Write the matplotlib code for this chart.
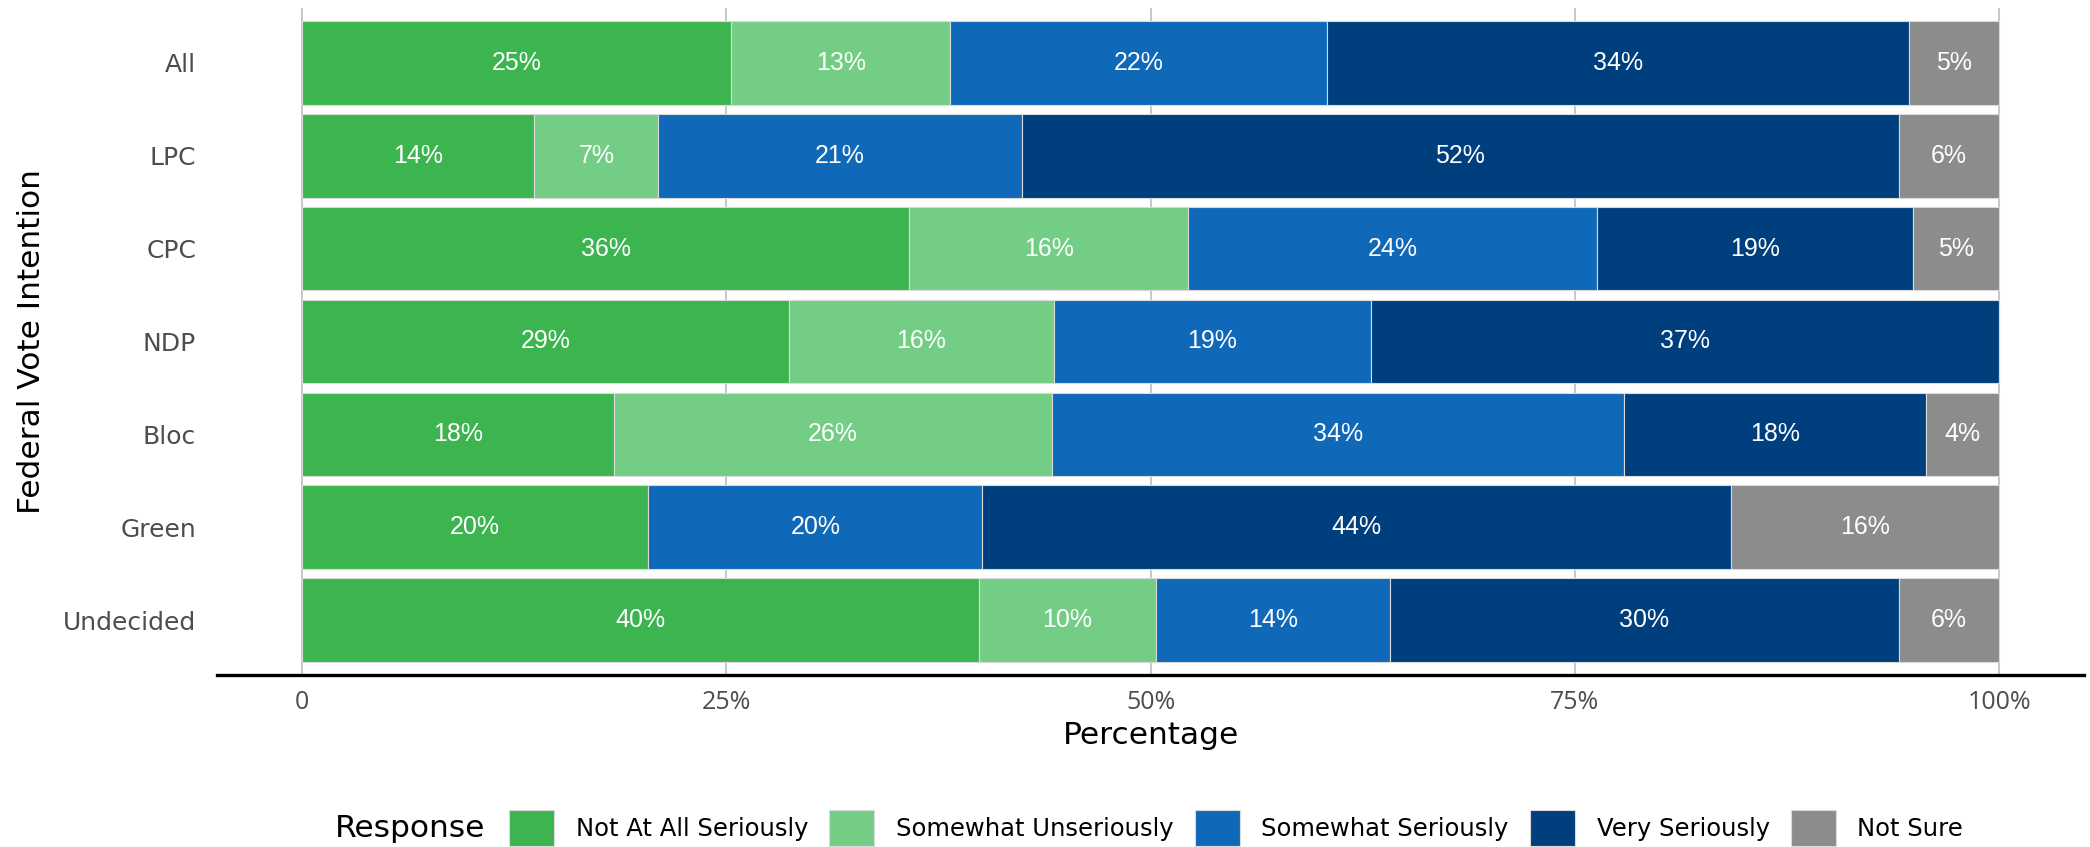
import numpy as np
import matplotlib
matplotlib.use('Agg')
import matplotlib.pyplot as plt
from matplotlib.patches import Patch

# data (percent per response, per vote intention)
categories = ["All", "LPC", "CPC", "NDP", "Bloc", "Green", "Undecided"]
responses = ["Not At All Seriously", "Somewhat Unseriously", "Somewhat Seriously",
             "Very Seriously", "Not Sure"]
not_at_all = [25.3, 13.7, 35.8, 28.7, 18.4, 20.4, 39.9]
somewhat_unserious = [12.9, 7.3, 16.4, 15.6, 25.8, 0.0, 10.4]
somewhat_serious = [22.2, 21.4, 24.1, 18.7, 33.7, 19.7, 13.8]
very_serious = [34.3, 51.7, 18.6, 37.0, 17.8, 44.1, 30.0]
not_sure = [5.3, 5.9, 5.1, 0.0, 4.3, 15.8, 5.9]
x_ticks = [0, 25, 50, 75, 100]
x_tick_labels = ["0", "25%", "50%", "75%", "100%"]

colors = ["#3CB44F", "#74CD84", "#1068B8", "#003F7D", "#8C8C8C"]
series = [not_at_all, somewhat_unserious, somewhat_serious, very_serious, not_sure]

title_font = ['DejaVu Sans']
tick_font = ['Open Sans', 'DejaVu Sans']
label_font = ['Liberation Sans', 'DejaVu Sans']

fig = plt.figure(figsize=(20.9, 8.47), dpi=100)
ax = fig.add_axes([217 / 2090, 1 - 675 / 847, (2084 - 217) / 2090, (675 - 8) / 847])

y = np.arange(len(categories))
left = np.zeros(len(categories))
for vals, col in zip(series, colors):
    vals = np.array(vals)
    ax.barh(y, vals, left=left, height=0.9, color=col, edgecolor='#DADADA',
            linewidth=0.8, zorder=2)
    for yi, (l, v) in enumerate(zip(left, vals)):
        if v > 0:
            ax.text(l + v / 2, yi, f"{round(v)}%", ha='center', va='center',
                    color='white', fontsize=18, family=label_font, zorder=3)
    left = left + vals

ax.set_xlim(-5, 105)
ax.set_ylim(len(categories) - 0.41, -0.59)
ax.set_xticks(x_ticks)
ax.set_xticklabels(x_tick_labels, family=tick_font, fontsize=18, color='#4D4D4D')
ax.set_yticks(y)
ax.set_yticklabels(categories, family=title_font, fontsize=18, color='#4D4D4D')
ax.tick_params(axis='both', length=0)
ax.tick_params(axis='x', pad=11)
ax.tick_params(axis='y', pad=15)

ax.grid(axis='x', color='#B4C6D4', linewidth=1.3, zorder=0)
ax.set_axisbelow(True)
for s in ['top', 'right', 'left']:
    ax.spines[s].set_visible(False)
ax.spines['bottom'].set_linewidth(2.4)
ax.spines['bottom'].set_color('black')

ax.set_xlabel("Percentage", family=title_font, fontsize=22.5, labelpad=4)
ax.set_ylabel("Federal Vote Intention", family=title_font, fontsize=22.5, labelpad=12)

# legend with title on the left
fig.text(335 / 2090, 1 - 828 / 847, "Response", ha='left', va='center',
         family=title_font, fontsize=22.5)
handles = [Patch(facecolor=c, edgecolor='#DADADA', linewidth=0.8, label=r)
           for c, r in zip(colors, responses)]
fig.legend(handles=handles, loc='center left', bbox_to_anchor=(509 / 2090, 1 - 828 / 847),
           ncol=5, frameon=False, borderaxespad=0, borderpad=0,
           prop={'family': title_font, 'size': 17.5},
           handlelength=1.85, handleheight=1.85, handletextpad=0.9, columnspacing=0.86)

fig.savefig("out.png", dpi=100)
